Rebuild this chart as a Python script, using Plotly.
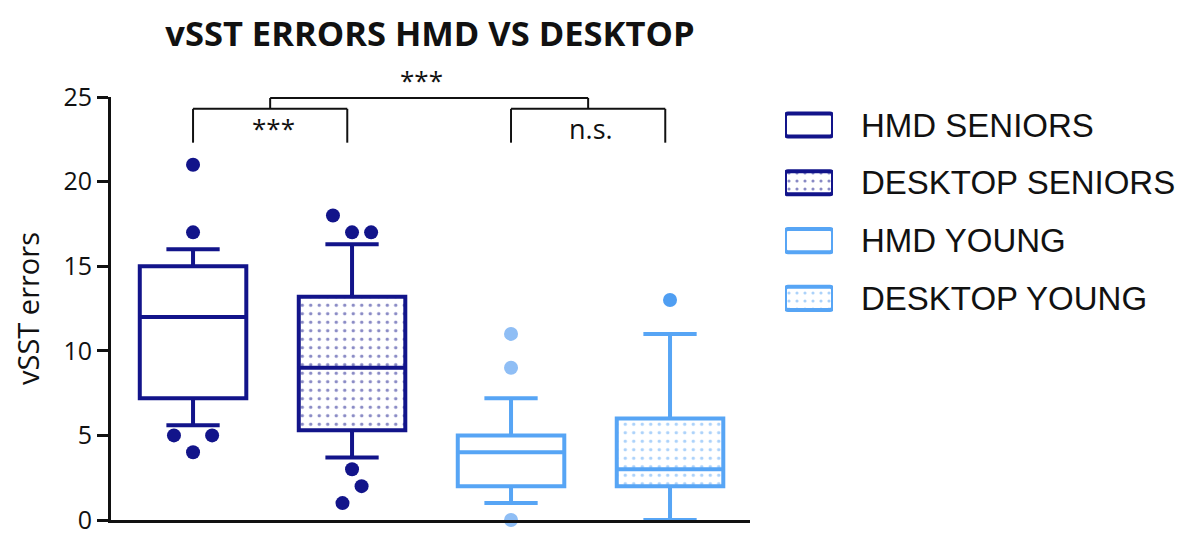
import plotly.graph_objects as go

# ---------------- data ----------------
groups = ["HMD SENIORS", "DESKTOP SENIORS", "HMD YOUNG", "DESKTOP YOUNG"]
q1 = [7.2, 5.3, 2.0, 2.0]
median = [12.0, 9.0, 4.0, 3.0]
q3 = [15.0, 13.2, 5.0, 6.0]
lower_whisker = [5.6, 3.7, 1.0, 0.0]
upper_whisker = [16.0, 16.3, 7.2, 11.0]
outliers = [[21, 17, 5, 5, 4], [18, 17, 17, 3, 2, 1], [11, 9, 0], [13]]
y_ticks = [0, 5, 10, 15, 20, 25]
pairs = [(0, 1, "***"), (2, 3, "n.s.")]
overall_label = "***"

# ---------------- style ----------------
NAVY = "#12148a"
LIGHT = "#57a5f5"
line_colors = [NAVY, NAVY, LIGHT, LIGHT]
point_colors = [NAVY, NAVY, "#8fbef5", "#4f9ef2"]
dotted = [False, True, False, True]
dodge = [[0, 0, -0.12, 0.12, 0], [-0.12, 0, 0.12, 0, 0.06, -0.06], [0, 0, 0], [0]]
BOX_W = 0.67
FONT = "Open Sans"

fig = go.Figure()

# dotted fill for desktop boxes (drawn under the box outlines)
for i, g in enumerate(groups):
    if dotted[i]:
        fig.add_trace(go.Bar(
            x=[i], base=[q1[i]], y=[q3[i] - q1[i]], width=BOX_W,
            marker=dict(color="white", line=dict(width=0),
                        pattern=dict(shape=".", fgcolor=line_colors[i], bgcolor="white",
                                     size=8.5, solidity=0.13)),
            showlegend=False, hoverinfo="skip"))

for i, g in enumerate(groups):
    fig.add_trace(go.Box(
        x=[i], q1=[q1[i]], median=[median[i]], q3=[q3[i]],
        lowerfence=[lower_whisker[i]], upperfence=[upper_whisker[i]],
        width=BOX_W, whiskerwidth=0.5, boxpoints=False,
        line=dict(color=line_colors[i], width=4),
        fillcolor="rgba(0,0,0,0)" if dotted[i] else "white",
        name=g, showlegend=False))
    fig.add_trace(go.Scatter(
        x=[i + d for d in dodge[i]], y=outliers[i], mode="markers",
        marker=dict(size=14, color=point_colors[i]),
        cliponaxis=False, showlegend=False, name=g))

# ---------------- legend built on a side axis ----------------
for i, g in enumerate(groups):
    fig.add_trace(go.Bar(
        y=[i], x=[1], base=[0], orientation="h", width=0.4,
        xaxis="x2", yaxis="y2",
        marker=dict(color="white", cornerradius=3,
                    line=dict(width=4, color=line_colors[i]),
                    pattern=dict(shape="." if dotted[i] else "", fgcolor=line_colors[i],
                                 bgcolor="white", size=8, solidity=0.12)),
        showlegend=False, hoverinfo="skip"))

annotations = []
for i, g in enumerate(groups):
    annotations.append(dict(x=0.6869, xref="paper", y=i, yref="y2", text=g,
                            showarrow=False, xanchor="left", yanchor="middle",
                            font=dict(family="Liberation Sans", size=33, color="#111")))

# ---------------- significance brackets ----------------
shapes = []
LOW_Y, LEG_Y, TOP_Y = 24.3, 22.3, 24.94
mids = []
for a, b, lab in pairs:
    bx = b - 0.03
    shapes += [
        dict(type="line", x0=a, x1=a, y0=LEG_Y, y1=LOW_Y),
        dict(type="line", x0=a, x1=bx, y0=LOW_Y, y1=LOW_Y),
        dict(type="line", x0=bx, x1=bx, y0=LOW_Y, y1=LEG_Y),
    ]
    m = (a + bx) / 2
    mids.append(m)
    shapes.append(dict(type="line", x0=m, x1=m, y0=LOW_Y, y1=TOP_Y))
    annotations.append(dict(x=m + 0.02, y=23.15, xref="x", yref="y", text=lab, showarrow=False,
                            font=dict(family=FONT, size=26 if lab == "***" else 27, color="#111")))
shapes.append(dict(type="line", x0=mids[0], x1=mids[1], y0=TOP_Y, y1=TOP_Y))
annotations.append(dict(x=(mids[0] + mids[1]) / 2 - 0.05, y=1.040, xref="x", yref="paper",
                        yanchor="middle", text=overall_label, showarrow=False,
                        font=dict(family=FONT, size=26, color="#111")))
for s in shapes:
    s.update(xref="x", yref="y", line=dict(color="#111", width=2))

fig.update_layout(
    width=1200, height=555,
    margin=dict(l=111, r=0, t=97, b=35),
    paper_bgcolor="white", plot_bgcolor="white",
    boxmode="overlay", barmode="overlay",
    title=dict(text="<b>vSST ERRORS HMD VS DESKTOP</b>", x=0.2929, xref="paper",
               xanchor="center", y=1 - 34 / 555, yref="container", yanchor="middle",
               font=dict(family=FONT, size=34.5, color="#111")),
    xaxis=dict(domain=[0, 639 / 1089], range=[-0.516, 3.503], showgrid=False, zeroline=False,
               showticklabels=False, ticks="", showline=True, linecolor="#111", linewidth=3),
    yaxis=dict(range=[0, 25], tickvals=y_ticks, showgrid=False, zeroline=False,
               showline=True, linecolor="#111", linewidth=3,
               ticks="outside", ticklen=11, tickwidth=3, tickcolor="#111",
               tickfont=dict(family=FONT, size=25, color="#111"),
               title=dict(text="vSST errors", standoff=16,
                          font=dict(family=FONT, size=29, color="#111"))),
    xaxis2=dict(domain=[0.6189, 0.6630], range=[0, 1], visible=False, anchor="y2"),
    yaxis2=dict(domain=[0, 1], range=[6.834, -0.4844], visible=False, anchor="x2"),
    shapes=shapes, annotations=annotations,
)

fig.write_html("out.html")
